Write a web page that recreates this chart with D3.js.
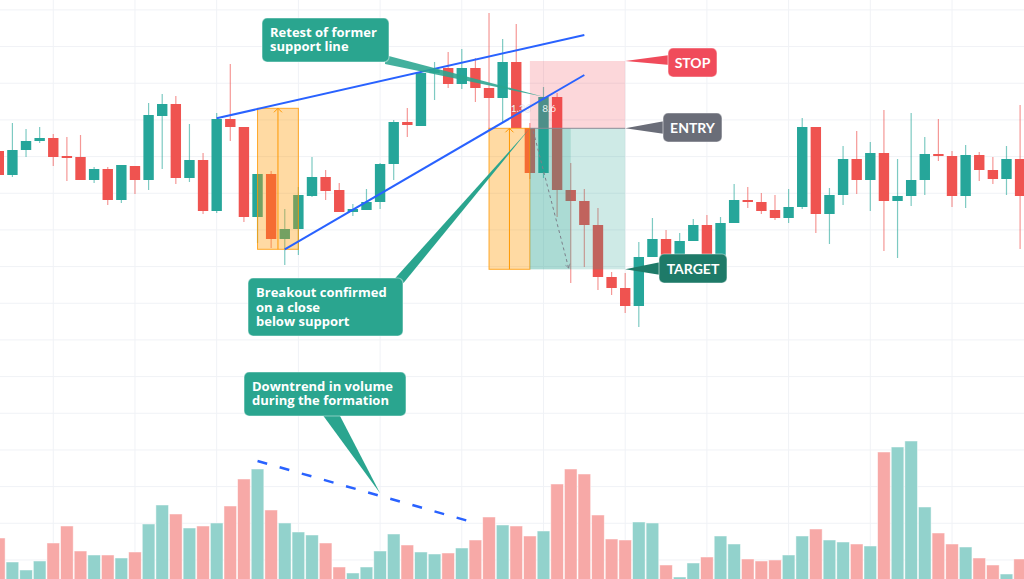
<!DOCTYPE html>
<html>
<head>
<meta charset="utf-8">
<script src="https://cdn.jsdelivr.net/npm/d3@7"></script>
<style>
	html, body { margin: 0; padding: 0; background: #fff; overflow: hidden; }
	text { font-family: Lato, 'Open Sans', sans-serif; }
</style>
</head>
<body>
<div class="content"></div>
<script>
const w = 1024;
const h = 579;

const upColor = '#26a69a';
const downColor = '#ef5350';
const upVolColor = '#92d2cc';
const downVolColor = '#f7a9a7';
const calloutColor = '#2aa58f';
const lineColor = '#2962ff';

// candles (price units)
const opens = [449, 425, 450, 459, 462, 444, 443, 420, 431, 400, 434, 420, 484, 496, 422, 440, 389, 481, 473, 383,
	426, 361, 371, 404, 423, 410, 388, 390, 398, 436, 478, 474, 527, 532, 516, 532, 512, 502, 538, 472,
	427, 503, 410, 399, 375, 323, 312, 294, 343, 361, 340, 359, 375, 340, 377, 400, 398, 390, 382, 393,
	473, 386, 405, 441, 420, 447, 399, 404, 420, 446, 444, 404, 445, 430, 421, 441];
const highs = [454, 477, 471, 473, 466, 463, 465, 433, 433, 435, 434, 497, 506, 504, 476, 447, 487, 536, 473, 426,
	429, 391, 413, 443, 430, 417, 396, 411, 437, 480, 492, 530, 538, 548, 551, 542, 587, 561, 576, 477,
	513, 507, 437, 411, 392, 328, 327, 358, 382, 370, 367, 381, 385, 383, 416, 413, 407, 405, 411, 482,
	473, 412, 454, 469, 458, 490, 441, 487, 463, 481, 449, 455, 448, 443, 454, 495];
const lows = [422, 423, 443, 457, 434, 419, 420, 417, 395, 397, 406, 410, 431, 416, 418, 386, 387, 459, 378, 357,
	352, 335, 345, 403, 400, 388, 384, 390, 391, 420, 463, 474, 500, 512, 511, 498, 470, 478, 472, 421,
	422, 383, 317, 333, 310, 305, 287, 273, 343, 340, 338, 359, 332, 338, 377, 392, 386, 380, 377, 391,
	367, 356, 395, 406, 389, 349, 342, 394, 405, 439, 393, 392, 419, 416, 405, 351];
const closes = [425, 450, 459, 462, 443, 442, 420, 431, 400, 435, 420, 485, 496, 422, 440, 389, 481, 473, 383, 426,
	361, 371, 405, 423, 409, 388, 391, 398, 436, 478, 475, 527, 530, 516, 532, 512, 502, 538, 472, 427,
	503, 410, 399, 375, 323, 312, 294, 343, 361, 342, 359, 375, 338, 377, 400, 398, 389, 382, 393, 473,
	386, 405, 441, 420, 447, 399, 404, 420, 446, 444, 404, 445, 430, 421, 441, 404];
const volumes = [47, 23, 15, 24, 42, 59, 34, 30, 30, 27, 33, 61, 80, 71, 57, 59, 62, 79, 106, 116,
	75, 62, 53, 50, 42, 18, 12, 18, 34, 51, 40, 33, 31, 32, 37, 45, 68, 60, 59, 49,
	54, 101, 116, 111, 70, 46, 45, 63, 62, 20, 8, 22, 28, 49, 41, 26, 24, 25, 30, 49,
	56, 45, 43, 41, 39, 133, 138, 144, 78, 52, 41, 38, 27, 20, 11, 26];

// trade setup levels
const entryPrice = 471.7;
const stopPrice = 539;
const targetPrice = 330.7;
const patternTop = 491.7;
const patternBottom = 350.7;

const upperTrend = [[16, 481.7], [43, 565]];
const lowerTrend = [[21, 350.7], [43, 525]];
const volumeTrend = [[19, 124], [35, 62]];

const data = opens.map((o, i) => ({
	i: i,
	open: o,
	high: highs[i],
	low: lows[i],
	close: closes[i],
	volume: volumes[i],
	up: closes[i] >= o
}));

const content = d3.select('.content');

const svg = content.append('svg')
	.attr('width', w)
	.attr('height', h);

const xScale = d3.scaleLinear()
	.domain([0, 75])
	.range([-1.2, 1020.1]);

const yScale = d3.scaleLinear()
	.domain([0, 600])
	.range([600, 0]);

const vScale = d3.scaleLinear()
	.domain([0, 150])
	.range([585, 435]);

const step = xScale(1) - xScale(0);

// grid
const grid = svg.append('g').attr('id', 'grid');
grid.selectAll('line.h')
	.data(d3.range(590.1, 0, -36.67))
	.enter()
	.append('line')
	.attr('class', 'h')
	.attr('x1', 0).attr('x2', w)
	.attr('y1', (d) => yScale(d)).attr('y2', (d) => yScale(d))
	.attr('stroke', '#f0f2f6');
grid.selectAll('line.v')
	.data(d3.range(4, 76, 6))
	.enter()
	.append('line')
	.attr('class', 'v')
	.attr('y1', 0).attr('y2', h)
	.attr('x1', (d) => xScale(d)).attr('x2', (d) => xScale(d))
	.attr('stroke', '#f0f2f6');

// volume
svg.append('g')
	.attr('id', 'volume')
	.selectAll('rect')
	.data(data)
	.enter()
	.append('rect')
	.attr('x', (d) => xScale(d.i) - step / 2 + 0.5)
	.attr('y', (d) => vScale(d.volume))
	.attr('width', step - 1)
	.attr('height', (d) => vScale(0) - vScale(d.volume))
	.attr('fill', (d) => d.up ? upVolColor : downVolColor)
	.attr('stroke', 'rgba(255,255,255,0.6)')
	.attr('stroke-width', 0.8);

// candles
const candles = svg.append('g').attr('id', 'candles');
candles.selectAll('line')
	.data(data)
	.enter()
	.append('line')
	.attr('x1', (d) => xScale(d.i)).attr('x2', (d) => xScale(d.i))
	.attr('y1', (d) => yScale(d.high)).attr('y2', (d) => yScale(d.low))
	.attr('stroke', (d) => d.up ? upColor : downColor)
	.attr('stroke-opacity', 0.6)
	.attr('stroke-width', 1.2);
candles.selectAll('rect')
	.data(data)
	.enter()
	.append('rect')
	.attr('x', (d) => xScale(d.i) - 5.2)
	.attr('y', (d) => yScale(Math.max(d.open, d.close)))
	.attr('width', 10.4)
	.attr('height', (d) => Math.max(2, Math.abs(yScale(d.open) - yScale(d.close))))
	.attr('fill', (d) => d.up ? upColor : downColor);

// pattern boxes (height projected down from the breakout)
const boxes = svg.append('g').attr('id', 'boxes');
[[19, 22, patternTop, patternBottom], [36, 39, entryPrice, targetPrice]].forEach((b) => {
	boxes.append('rect')
		.attr('x', xScale(b[0]))
		.attr('y', yScale(b[2]))
		.attr('width', xScale(b[1]) - xScale(b[0]))
		.attr('height', yScale(b[3]) - yScale(b[2]))
		.attr('fill', 'rgba(255,152,0,0.36)')
		.attr('stroke', 'rgba(255,152,0,0.8)')
		.attr('stroke-width', 1);
	const mx = xScale((b[0] + b[1]) / 2);
	boxes.append('line')
		.attr('x1', mx).attr('x2', mx)
		.attr('y1', yScale(b[2])).attr('y2', yScale(b[3]))
		.attr('stroke', '#ff9800')
		.attr('stroke-width', 1);
	boxes.append('path')
		.attr('d', `M${mx - 4},${yScale(b[2]) + 4}L${mx},${yScale(b[2])}L${mx + 4},${yScale(b[2]) + 4}`)
		.attr('fill', 'none')
		.attr('stroke', '#ff9800');
});

// short position zones
const zones = svg.append('g').attr('id', 'zones');
zones.append('rect')
	.attr('x', xScale(39))
	.attr('y', yScale(stopPrice))
	.attr('width', xScale(46) - xScale(39))
	.attr('height', yScale(entryPrice) - yScale(stopPrice))
	.attr('fill', 'rgba(242,54,69,0.2)');
zones.append('rect')
	.attr('x', xScale(39))
	.attr('y', yScale(entryPrice))
	.attr('width', xScale(46) - xScale(39))
	.attr('height', yScale(targetPrice) - yScale(entryPrice))
	.attr('fill', 'rgba(34,160,140,0.22)');
zones.append('rect')
	.attr('x', xScale(39))
	.attr('y', yScale(entryPrice))
	.attr('width', xScale(42) - xScale(39))
	.attr('height', yScale(targetPrice) - yScale(entryPrice))
	.attr('fill', 'rgba(34,160,140,0.2)');
zones.append('line')
	.attr('x1', xScale(39)).attr('x2', xScale(46))
	.attr('y1', yScale(entryPrice)).attr('y2', yScale(entryPrice))
	.attr('stroke', '#8a8d96')
	.attr('stroke-width', 1);

// projected path
svg.append('defs').append('marker')
	.attr('id', 'arrow')
	.attr('viewBox', '0 0 10 10')
	.attr('refX', 8).attr('refY', 5)
	.attr('markerWidth', 6).attr('markerHeight', 6)
	.attr('orient', 'auto')
	.append('path')
	.attr('d', 'M1,1L8,5L1,9')
	.attr('fill', 'none')
	.attr('stroke', '#7d808a');
svg.append('line')
	.attr('x1', xScale(39.25)).attr('y1', yScale(entryPrice - 3))
	.attr('x2', xScale(41.85)).attr('y2', yScale(targetPrice + 1))
	.attr('stroke', '#7d808a')
	.attr('stroke-dasharray', '3,3')
	.attr('marker-end', 'url(#arrow)');

// small labels of the tool
svg.append('text')
	.attr('x', xScale(37.6)).attr('y', yScale(entryPrice + 16))
	.attr('fill', 'rgba(255,255,255,0.9)')
	.style('font-size', '10px')
	.style('paint-order', 'stroke')
	.attr('stroke', 'rgba(120,120,130,0.18)')
	.attr('stroke-width', 1.5)
	.text('1.36');
svg.append('text')
	.attr('x', xScale(39.9)).attr('y', yScale(entryPrice + 16))
	.attr('fill', 'rgba(255,255,255,0.9)')
	.style('font-size', '10px')
	.text('8.6');

// trend lines
const line = d3.line()
	.x((d) => xScale(d[0]))
	.y((d) => yScale(d[1]));
const vLine = d3.line()
	.x((d) => xScale(d[0]))
	.y((d) => vScale(d[1]));

svg.append('path')
	.attr('d', line(upperTrend))
	.attr('fill', 'none')
	.attr('stroke', lineColor)
	.attr('stroke-width', 2);
svg.append('path')
	.attr('d', line(lowerTrend))
	.attr('fill', 'none')
	.attr('stroke', lineColor)
	.attr('stroke-width', 2);
svg.append('path')
	.attr('d', vLine(volumeTrend))
	.attr('fill', 'none')
	.attr('stroke', lineColor)
	.attr('stroke-width', 2.5)
	.attr('stroke-dasharray', '10,13');

// callouts
function callout(box, tail, tip, fill, lines, opts) {
	const g = svg.append('g');
	g.append('path')
		.attr('d', `M${tail[0][0]},${tail[0][1]}L${tip[0]},${tip[1]}L${tail[1][0]},${tail[1][1]}Z`)
		.attr('fill', fill)
		.attr('fill-opacity', opts.tailOpacity || 1)
		.attr('stroke', 'none');
	g.append('rect')
		.attr('x', box[0]).attr('y', box[1])
		.attr('width', box[2]).attr('height', box[3])
		.attr('rx', 5)
		.attr('fill', fill)
		.attr('stroke', 'rgba(255,255,255,0.45)')
		.attr('stroke-width', 1.2);
	const t = g.append('text')
		.attr('fill', '#fff')
		.style('font-family', opts.font)
		.style('font-weight', 700)
		.style('font-size', opts.size + 'px')
		.attr('text-anchor', opts.center ? 'middle' : 'start');
	lines.forEach((l, k) => {
		t.append('tspan')
			.attr('x', opts.center ? box[0] + box[2] / 2 : box[0] + 8)
			.attr('y', opts.y + k * opts.lh)
			.text(l);
	});
}

const noteFont = '"Open Sans", Lato, sans-serif';
const tagFont = 'Lato, sans-serif';

callout([262, 18, 127, 44], [[385, 55], [385, 64]], [xScale(40), yScale(503.3)], calloutColor,
	['Retest of former', 'support line'], { size: 13, y: 37, lh: 14.3, font: noteFont, tailOpacity: 0.88 });
callout([248, 278, 155, 58], [[394, 279.5], [403.5, 283]], [xScale(39), yScale(entryPrice)], calloutColor,
	['Breakout confirmed', 'on a close', 'below support'], { size: 13, y: 297, lh: 14.6, font: noteFont });
callout([244, 372, 162, 44], [[322, 414], [339, 414]], [xScale(28), vScale(91.7)], calloutColor,
	['Downtrend in volume', 'during the formation'], { size: 13, y: 391, lh: 14.3, font: noteFont });
callout([668, 48, 49, 29], [[670, 55], [670, 65]], [xScale(46), yScale(stopPrice)], '#f04b5b',
	['STOP'], { size: 14, y: 67.5, lh: 0, center: true, font: tagFont });
callout([663, 113, 59, 29], [[665, 121], [665, 134]], [xScale(46), yScale(entryPrice)], '#6a6d78',
	['ENTRY'], { size: 14, y: 133, lh: 0, center: true, font: tagFont });
callout([659, 254, 68, 29], [[661, 262], [661, 275]], [xScale(46), yScale(targetPrice)], '#1e7a68',
	['TARGET'], { size: 14, y: 274, lh: 0, center: true, font: tagFont });
</script>
</body>
</html>
